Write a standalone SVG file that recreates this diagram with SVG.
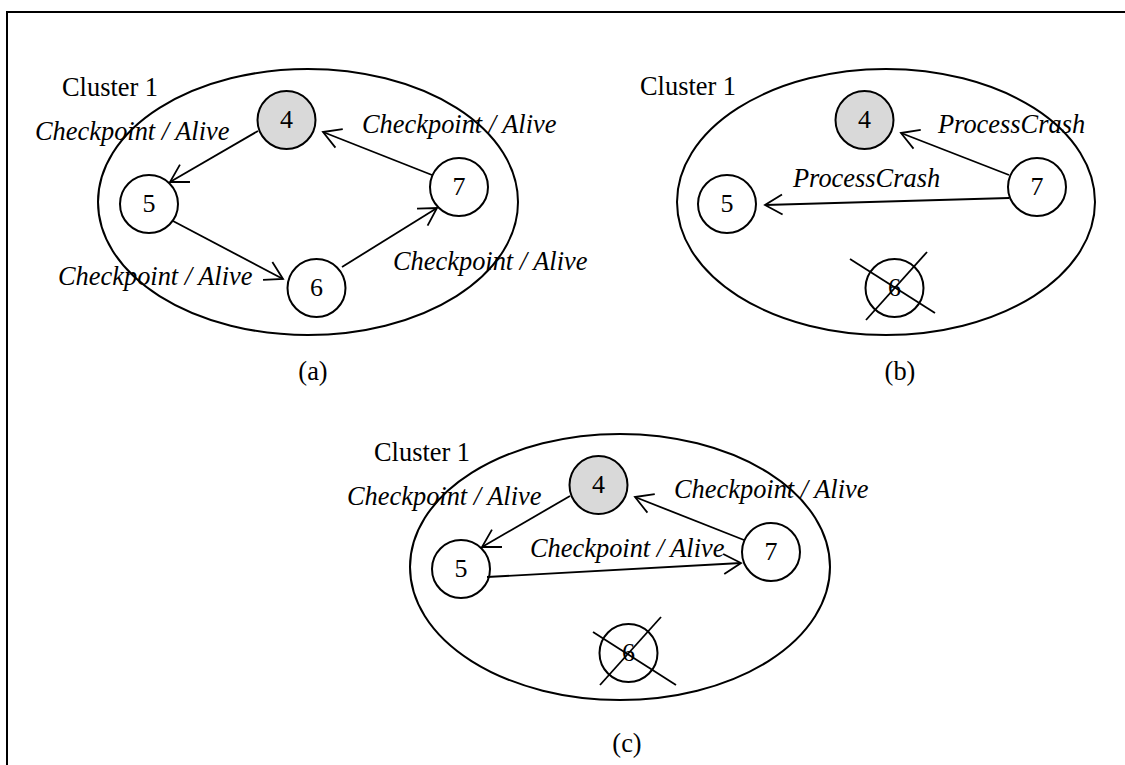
<svg xmlns="http://www.w3.org/2000/svg" width="1125" height="765" viewBox="0 0 1125 765">
  <style>
    .frame { fill: none; stroke: #000; stroke-width: 2; }
    .cluster { fill: none; stroke: #000; stroke-width: 2; }
    .node { fill: #fff; stroke: #000; stroke-width: 2; }
    .leader { fill: #d9d9d9; }
    .edge { fill: none; stroke: #000; stroke-width: 1.8; marker-end: url(#open); }
    .cross { stroke: #000; stroke-width: 1.8; }
    text { font-family: "Liberation Serif", "Times New Roman", serif; font-size: 26.4px; fill: #000; }
    .num { text-anchor: middle; font-size: 26px; }
    .msg { font-style: italic; }
    .cap { text-anchor: middle; }
  </style>
  <defs>
    <marker id="open" markerUnits="userSpaceOnUse" markerWidth="26" markerHeight="26" refX="21" refY="13" orient="auto" overflow="visible">
      <path d="M3.7,3 L21,13 L3.7,23" fill="none" stroke="#000" stroke-width="1.8"/>
    </marker>
  </defs>

  <rect class="frame" x="7" y="12" width="1130" height="770"/>

  <!-- Panel (a): normal checkpoint ring -->
  <g id="panel-a">
    <ellipse class="cluster" cx="308" cy="202" rx="210" ry="133"/>
    <text x="62" y="96">Cluster 1</text>
    <text class="cap" x="313" y="380">(a)</text>
  </g>
  <g id="a-node4"><circle class="node leader" cx="286.5" cy="120" r="29"/><text class="num" x="286.5" y="128">4</text></g>
  <g id="a-node5"><circle class="node" cx="149" cy="204" r="29"/><text class="num" x="149" y="212">5</text></g>
  <g id="a-node6"><circle class="node" cx="316.5" cy="288" r="29"/><text class="num" x="316.5" y="296">6</text></g>
  <g id="a-node7"><circle class="node" cx="459" cy="187" r="29"/><text class="num" x="459" y="195">7</text></g>
  <g id="a-edges">
    <line class="edge" x1="258" y1="131" x2="170" y2="182"/>
    <line class="edge" x1="173" y1="221" x2="283" y2="279"/>
    <line class="edge" x1="342" y1="267" x2="437" y2="208"/>
    <line class="edge" x1="432" y1="175" x2="323" y2="132"/>
    <text class="msg" x="35" y="140">Checkpoint / Alive</text>
    <text class="msg" x="362" y="133">Checkpoint / Alive</text>
    <text class="msg" x="58" y="285">Checkpoint / Alive</text>
    <text class="msg" x="393" y="270">Checkpoint / Alive</text>
  </g>

  <!-- Panel (b): node 6 crashed, 7 reports to 4 and 5 -->
  <g id="panel-b">
    <ellipse class="cluster" cx="886" cy="202" rx="209" ry="133"/>
    <text x="640" y="95">Cluster 1</text>
    <text class="cap" x="900" y="380">(b)</text>
  </g>
  <g id="b-node4"><circle class="node leader" cx="864.5" cy="120" r="29"/><text class="num" x="864.5" y="128">4</text></g>
  <g id="b-node5"><circle class="node" cx="727" cy="204" r="29"/><text class="num" x="727" y="212">5</text></g>
  <g id="b-node6">
    <circle class="node" cx="894.5" cy="288" r="29"/><text class="num" x="894.5" y="296">6</text>
    <line class="cross" x1="850" y1="259" x2="935" y2="313"/>
    <line class="cross" x1="927" y1="252" x2="866" y2="320"/>
  </g>
  <g id="b-node7"><circle class="node" cx="1037" cy="187" r="29"/><text class="num" x="1037" y="195">7</text></g>
  <g id="b-edges">
    <line class="edge" x1="1009" y1="175" x2="901" y2="133"/>
    <line class="edge" x1="1009" y1="198" x2="765" y2="205"/>
    <text class="msg" x="938" y="133">ProcessCrash</text>
    <text class="msg" x="793" y="187">ProcessCrash</text>
  </g>

  <!-- Panel (c): ring rebuilt without node 6 -->
  <g id="panel-c">
    <ellipse class="cluster" cx="620" cy="567" rx="210" ry="133"/>
    <text x="374" y="461">Cluster 1</text>
    <text class="cap" x="627" y="752">(c)</text>
  </g>
  <g id="c-node4"><circle class="node leader" cx="598.5" cy="485" r="29"/><text class="num" x="598.5" y="493">4</text></g>
  <g id="c-node5"><circle class="node" cx="461" cy="569" r="29"/><text class="num" x="461" y="577">5</text></g>
  <g id="c-node6">
    <circle class="node" cx="628.5" cy="653" r="29"/><text class="num" x="628.5" y="661">6</text>
    <line class="cross" x1="593" y1="632" x2="676" y2="685"/>
    <line class="cross" x1="661" y1="617" x2="600" y2="685"/>
  </g>
  <g id="c-node7"><circle class="node" cx="771" cy="552" r="29"/><text class="num" x="771" y="560">7</text></g>
  <g id="c-edges">
    <line class="edge" x1="570" y1="496" x2="482" y2="547"/>
    <line class="edge" x1="744" y1="540" x2="635" y2="497"/>
    <line class="edge" x1="487" y1="577" x2="741" y2="563"/>
    <text class="msg" x="347" y="505">Checkpoint / Alive</text>
    <text class="msg" x="674" y="498">Checkpoint / Alive</text>
    <text class="msg" x="530" y="557">Checkpoint / Alive</text>
  </g>
</svg>
